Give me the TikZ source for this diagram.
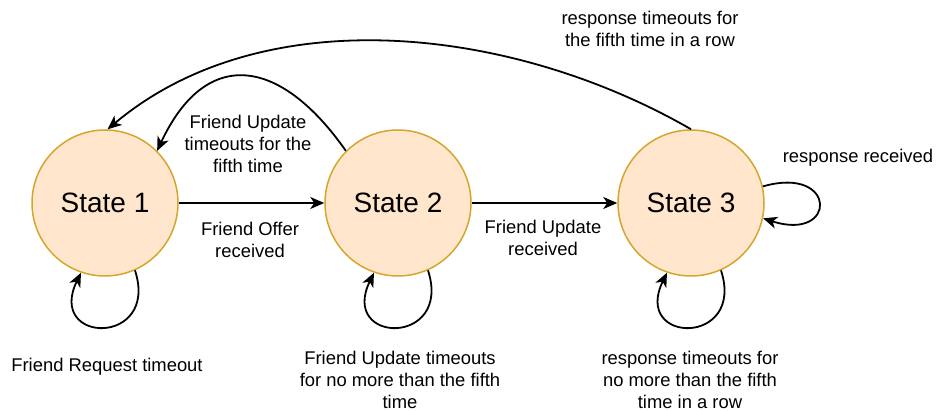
\documentclass[tikz,border=0pt]{standalone}
\usepackage{fontspec}
\setmainfont{Liberation Sans}
\usetikzlibrary{arrows.meta}
\definecolor{stfill}{HTML}{FFE6CC}
\definecolor{stline}{HTML}{D6A52E}
\begin{document}
\begin{tikzpicture}[x=0.5pt,y=0.5pt,
  state/.style={circle,draw=stline,fill=stfill,line width=0.75pt,minimum size=73pt,inner sep=0pt,
    font=\fontsize{14}{16}\selectfont},
  lbl/.style={align=center,inner sep=0pt,font=\fontsize{9.2}{11}\selectfont},
  edge/.style={line width=0.9pt,-{Stealth[length=7pt,width=6pt,inset=2pt]}}]
\useasboundingbox (0,0) rectangle (938,-411);

% states
\node[state] (s1) at (105,-203) {State 1};
\node[state] (s2) at (398,-203) {State 2};
\node[state] (s3) at (691,-203) {State 3};

% forward transitions
\draw[edge] (s1) -- (s2);
\draw[edge] (s2) -- (s3);

% backward transitions
\draw[edge] (s2.135) .. controls +(125:115) and +(65:115) .. (s1.45);
\draw[edge] (s3.90) to[out=150,in=40,looseness=0.9] (s1.88);

% self loops
\draw[edge] (s1.-66) .. controls +(-72:80) and +(-116:80) .. (s1.-109);
\draw[edge] (s2.-66) .. controls +(-72:80) and +(-116:80) .. (s2.-109);
\draw[edge] (s3.-66) .. controls +(-72:80) and +(-116:80) .. (s3.-109);
\draw[edge] (s3.13) .. controls +(16:78) and +(-18:78) .. (s3.-12);

% transition labels
\node[lbl] (l12) at (250,-240) {Friend Offer\\received};
\node[lbl] (l23) at (543,-238) {Friend Update\\received};
\node[lbl] (l21) at (248,-144) {Friend Update\\timeouts for the\\fifth time};
\node[lbl] (l31) at (650,-29) {response timeouts for\\the fifth time in a row};
\node[lbl] (l33r) at (858,-158) {response received};
\node[lbl] (l11) at (107,-367) {Friend Request timeout};
\node[lbl] (l22) at (400,-380) {Friend Update timeouts\\for no more than the fifth\\time};
\node[lbl] (l33) at (690,-380) {response timeouts for\\no more than the fifth\\time in a row};
\end{tikzpicture}
\end{document}
